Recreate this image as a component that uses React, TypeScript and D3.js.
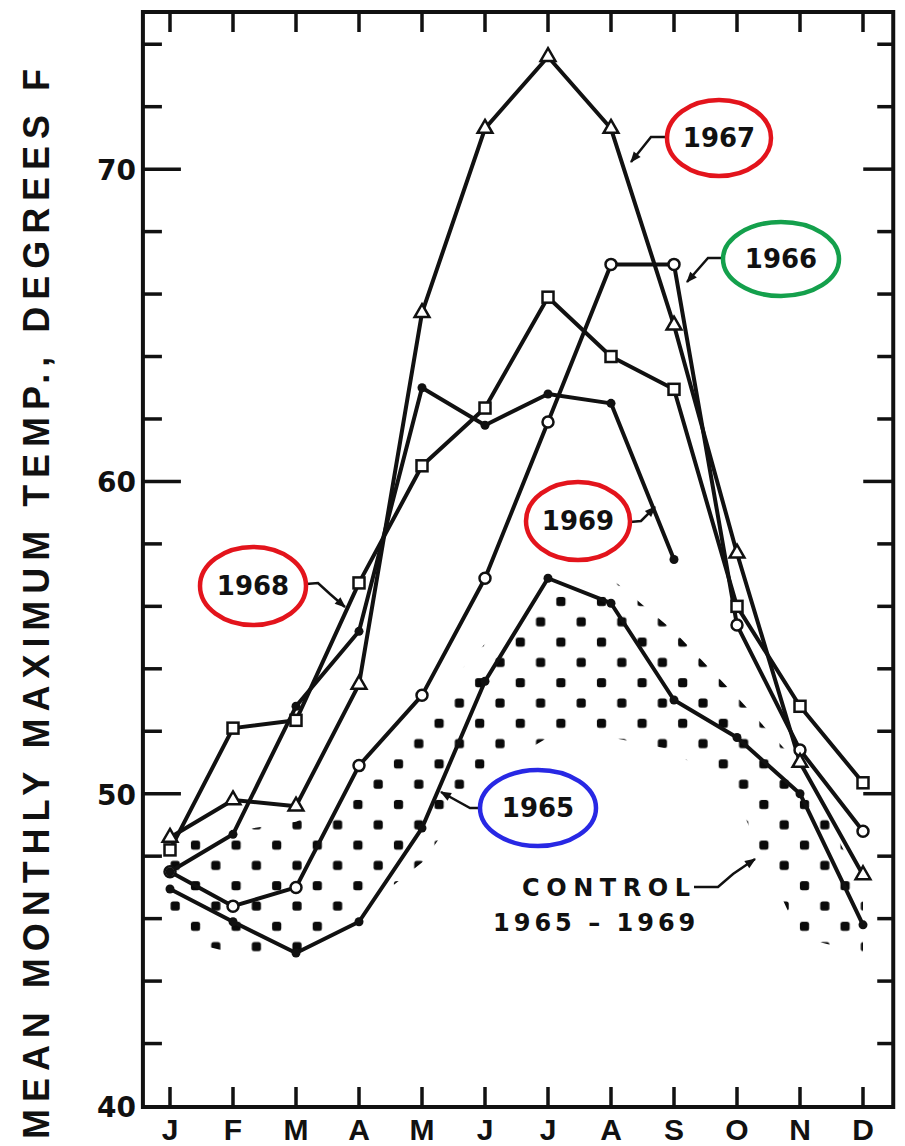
import React, { useEffect, useRef } from 'react';
import * as d3 from 'd3';

// months on the x axis
const months = ['J', 'F', 'M', 'A', 'M', 'J', 'J', 'A', 'S', 'O', 'N', 'D'];
const yLabels = [40, 50, 60, 70];

// mean monthly maximum temperature, degrees F
const temps1965 = [46.95, 45.9, 44.9, 45.9, 48.9, 53.6, 56.9, 56.1, 53.0, 51.8, 50.0, 45.8];
const temps1966 = [47.5, 46.4, 47.0, 50.9, 53.15, 56.9, 61.9, 66.95, 66.95, 55.4, 51.4, 48.8];
const temps1967 = [48.6, 49.8, 49.6, 53.5, 65.4, 71.3, 73.6, 71.3, 65.0, 57.7, 51.0, 47.4];
const temps1968 = [48.2, 52.1, 52.35, 56.75, 60.5, 62.35, 65.9, 64.0, 62.95, 56.0, 52.8, 50.35];
const temps1969 = [47.5, 48.7, 52.8, 55.2, 63.0, 61.8, 62.8, 62.5, 57.5];

// stippled control band 1965-1969
const controlUpper = [48.6, 48.8, 49.1, 50.0, 52.6, 54.8, 56.3, 56.9, 55.2, 53.1, 50.9, 47.0];
const controlLower = [45.4, 44.9, 44.9, 46.2, 47.8, 50.6, 51.8, 51.8, 51.4, 49.8, 45.4, 44.9];

const series = [
  { year: '1965', values: temps1965, marker: 'dot' },
  { year: '1966', values: temps1966, marker: 'circle' },
  { year: '1967', values: temps1967, marker: 'triangle' },
  { year: '1968', values: temps1968, marker: 'square' },
  { year: '1969', values: temps1969, marker: 'dot' },
];

const RED = '#e3141c';
const GREEN = '#14a04c';
const BLUE = '#2828e4';

const W = 905;
const H = 1146;

const App = () => {
  const ref = useRef<SVGSVGElement>(null);

  useEffect(() => {
    const svg = d3.select(ref.current);
    svg.selectAll('*').remove();

    const x = d3.scaleLinear().domain([0, 11]).range([170, 863]);
    const y = d3.scaleLinear().domain([40, 75]).range([1106, 13]);

    const left = x(-0.43);
    const right = x(11.48);
    const top = y(75) - 1;
    const bottom = y(40) + 1;

    const defs = svg.append('defs');

    // stipple dots
    const pat = defs.append('pattern')
      .attr('id', 'stip')
      .attr('patternUnits', 'userSpaceOnUse')
      .attr('x', 2.8)
      .attr('y', 2.8)
      .attr('width', 40.6)
      .attr('height', 40.6);
    [[10, 10], [30.3, 30.3]].forEach(([cx, cy]) => {
      pat.append('rect')
        .attr('x', cx - 4.6).attr('y', cy - 4.6)
        .attr('width', 9.2).attr('height', 9.2)
        .attr('rx', 2.5)
        .attr('fill', '#0a0a0a');
    });

    defs.append('marker')
      .attr('id', 'arrowhead')
      .attr('viewBox', '0 0 10 10')
      .attr('refX', 9)
      .attr('refY', 5)
      .attr('markerUnits', 'userSpaceOnUse')
      .attr('markerWidth', 13)
      .attr('markerHeight', 11)
      .attr('orient', 'auto')
      .append('path')
      .attr('d', 'M0,1 L10,5 L0,9 Z')
      .attr('fill', '#111');

    // control band
    const band = d3.area<number>()
      .x((_, i) => x(i))
      .y0((_, i) => y(controlLower[i]))
      .y1(d => y(d));
    svg.append('path')
      .attr('d', band(controlUpper))
      .attr('fill', 'url(#stip)');

    // frame
    svg.append('rect')
      .attr('x', left).attr('y', top)
      .attr('width', right - left).attr('height', bottom - top)
      .attr('fill', 'none')
      .attr('stroke', '#111')
      .attr('stroke-width', 4);

    // y ticks, every 2 degrees, both sides
    const ticks = d3.range(42, 75, 2);
    const tg = svg.append('g').attr('stroke', '#111').attr('stroke-width', 3.5);
    ticks.forEach(v => {
      const major = v % 10 === 0;
      tg.append('line')
        .attr('x1', left).attr('x2', left + (major ? 38 : 19))
        .attr('y1', y(v)).attr('y2', y(v));
      tg.append('line')
        .attr('x1', right).attr('x2', right - (major ? 30 : 16))
        .attr('y1', y(v)).attr('y2', y(v));
    });
    months.forEach((_, i) => {
      tg.append('line')
        .attr('x1', x(i)).attr('x2', x(i))
        .attr('y1', top).attr('y2', top + 20);
      tg.append('line')
        .attr('x1', x(i)).attr('x2', x(i))
        .attr('y1', bottom).attr('y2', bottom - 20);
    });

    // month labels
    svg.append('g')
      .selectAll('text')
      .data(months)
      .join('text')
      .attr('x', (_, i) => x(i))
      .attr('y', 1140)
      .attr('text-anchor', 'middle')
      .style('font-family', 'Liberation Sans, Arial, sans-serif')
      .style('font-weight', 'bold')
      .style('font-size', '30px')
      .attr('fill', '#111')
      .text(d => d);

    // y labels
    svg.append('g')
      .selectAll('text')
      .data(yLabels)
      .join('text')
      .attr('x', 136)
      .attr('y', d => y(d) + 11)
      .attr('text-anchor', 'end')
      .style('font-family', 'DejaVu Sans, sans-serif')
      .style('font-weight', 'bold')
      .style('font-size', '28px')
      .attr('fill', '#111')
      .text(d => d);

    // y title
    svg.append('text')
      .attr('transform', 'translate(36,604) rotate(-90)')
      .attr('text-anchor', 'middle')
      .attr('dy', '0.36em')
      .attr('textLength', 1070)
      .attr('lengthAdjust', 'spacing')
      .style('font-family', 'Liberation Sans, Arial, sans-serif')
      .style('font-weight', 'bold')
      .style('font-size', '36px')
      .attr('fill', '#111')
      .text('MEAN MONTHLY MAXIMUM TEMP., DEGREES F');

    // series lines
    const line = d3.line<number>()
      .x((_, i) => x(i))
      .y(d => y(d));

    series.forEach(s => {
      svg.append('path')
        .attr('d', line(s.values))
        .attr('fill', 'none')
        .attr('stroke', '#111')
        .attr('stroke-width', 4)
        .attr('stroke-linejoin', 'round');
    });

    // markers
    const tri = d3.symbol().type(d3.symbolTriangle).size(95);
    series.forEach(s => {
      const g = svg.append('g');
      s.values.forEach((v, i) => {
        const cx = x(i);
        const cy = y(v);
        if (s.marker === 'circle') {
          g.append('circle').attr('cx', cx).attr('cy', cy).attr('r', 5.5)
            .attr('fill', '#fff').attr('stroke', '#111').attr('stroke-width', 2.5);
        } else if (s.marker === 'square') {
          g.append('rect').attr('x', cx - 5.5).attr('y', cy - 5.5)
            .attr('width', 11).attr('height', 11)
            .attr('fill', '#fff').attr('stroke', '#111').attr('stroke-width', 2.5);
        } else if (s.marker === 'triangle') {
          g.append('path').attr('d', tri())
            .attr('transform', `translate(${cx},${cy})`)
            .attr('fill', '#fff').attr('stroke', '#111').attr('stroke-width', 2.5);
        } else {
          g.append('circle').attr('cx', cx).attr('cy', cy).attr('r', 4.5)
            .attr('fill', '#111');
        }
      });
    });

    // circled year labels with arrows
    const notes = [
      { text: '1967', color: RED, cx: 719, cy: 138, rx: 52, ry: 38, arrow: [[667, 137], [651, 137], [631, 162]] },
      { text: '1966', color: GREEN, cx: 781, cy: 259, rx: 58, ry: 37, arrow: [[723, 258], [708, 258], [687, 282]] },
      { text: '1969', color: RED, cx: 578, cy: 521, rx: 52, ry: 39, arrow: [[630, 522], [641, 521], [655, 507]] },
      { text: '1968', color: RED, cx: 253, cy: 586, rx: 53, ry: 39, arrow: [[306, 584], [318, 583], [330, 594], [345, 607]] },
      { text: '1965', color: BLUE, cx: 538, cy: 808, rx: 58, ry: 38, arrow: [[480, 808], [470, 808], [441, 792]] },
    ];
    const arrowLine = d3.line().curve(d3.curveLinear);

    notes.forEach(n => {
      svg.append('path')
        .attr('d', arrowLine(n.arrow as [number, number][]))
        .attr('fill', 'none')
        .attr('stroke', '#111')
        .attr('stroke-width', 2.5)
        .attr('marker-end', 'url(#arrowhead)');
      svg.append('ellipse')
        .attr('cx', n.cx).attr('cy', n.cy)
        .attr('rx', n.rx).attr('ry', n.ry)
        .attr('fill', '#fff')
        .attr('stroke', n.color)
        .attr('stroke-width', 4.5);
      svg.append('text')
        .attr('x', n.cx).attr('y', n.cy)
        .attr('dy', '0.36em')
        .attr('text-anchor', 'middle')
        .style('font-family', 'DejaVu Sans, sans-serif')
        .style('font-weight', 'bold')
        .style('font-size', '26px')
        .attr('fill', '#111')
        .text(n.text);
    });

    // control label
    svg.append('path')
      .attr('d', arrowLine([[694, 887], [718, 887], [733, 874], [755, 859]]))
      .attr('fill', 'none')
      .attr('stroke', '#111')
      .attr('stroke-width', 2.5)
      .attr('marker-end', 'url(#arrowhead)');
    svg.append('text')
      .attr('x', 522).attr('y', 887)
      .attr('dy', '0.36em')
      .attr('textLength', 168)
      .attr('lengthAdjust', 'spacing')
      .style('font-family', 'DejaVu Sans, sans-serif')
      .style('font-weight', 'bold')
      .style('font-size', '24px')
      .attr('fill', '#111')
      .text('CONTROL');
    svg.append('text')
      .attr('x', 493).attr('y', 922)
      .attr('dy', '0.36em')
      .style('letter-spacing', '4px')
      .style('font-family', 'DejaVu Sans, sans-serif')
      .style('font-weight', 'bold')
      .style('font-size', '24px')
      .attr('fill', '#111')
      .text('1965 – 1969');
  }, []);

  return (
    <svg
      ref={ref}
      width={W}
      height={H}
      style={{ position: 'absolute', left: 0, top: 0, background: '#fff' }}
    />
  );
};

export default App;
